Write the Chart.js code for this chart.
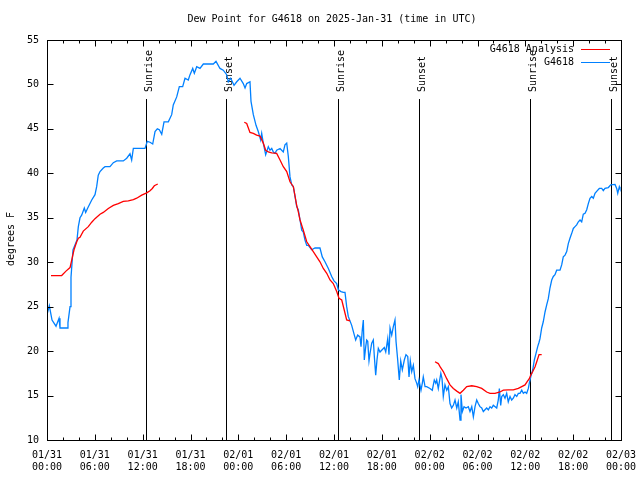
<!DOCTYPE html>
<html>
<head>
<meta charset="utf-8">
<script src="https://cdn.jsdelivr.net/npm/chart.js@4/dist/chart.umd.min.js"></script>
<style>
html,body{margin:0;padding:0;background:#fff;}
canvas{display:block;}
</style>
</head>
<body>
<canvas id="c" width="640" height="480"></canvas>
<script>
// ---- data (hours since 2025-01-31 00:00 UTC) ----
const chartTitle = 'Dew Point for G4618 on 2025-Jan-31 (time in UTC)';
const yAxisTitle = 'degrees F';
const seriesNames = ['G4618 Analysis', 'G4618'];

const xTickDates = ['01/31','01/31','01/31','01/31','02/01','02/01','02/01','02/01','02/02','02/02','02/02','02/02','02/03'];
const xTickTimes = ['00:00','06:00','12:00','18:00','00:00','06:00','12:00','18:00','00:00','06:00','12:00','18:00','00:00'];

const eventNames = ['Sunrise','Sunset','Sunrise','Sunset','Sunrise','Sunset'];
const eventHours = [12.45, 22.5, 36.55, 46.6, 60.6, 70.7];

const obsHours = [0,0.29,0.63,1.13,1.51,1.63,2.51,2.63,2.89,3.01,3.26,3.76,3.93,4.14,4.35,4.68,4.85,5.11,5.61,6.02,6.23,6.43,6.65,7.06,7.28,7.9,8.32,8.74,9.57,10.0,10.41,10.62,10.83,12.29,12.58,12.92,13.26,13.55,13.84,14.09,14.39,14.68,15.22,15.64,15.84,16.27,16.6,17.02,17.31,17.72,17.94,18.28,18.48,18.78,19.19,19.61,20.86,21.2,21.7,22.11,22.54,22.74,23.04,23.46,23.8,24.21,24.62,24.84,25.05,25.46,25.59,25.88,26.22,26.5,26.8,26.93,27.13,27.43,27.76,27.97,28.19,28.39,28.6,28.81,29.23,29.64,29.85,30.07,30.27,30.48,30.7,30.9,31.11,31.32,31.52,31.74,31.95,32.15,32.36,32.58,32.78,33.2,33.62,34.24,34.53,34.87,35.29,35.71,36.0,36.34,36.54,36.88,37.17,37.38,37.59,37.79,38.22,38.55,38.72,38.97,39.26,39.39,39.55,39.68,39.8,39.98,40.1,40.23,40.39,40.52,40.73,40.93,41.06,41.23,41.39,41.56,41.77,41.98,42.31,42.49,42.74,42.9,43.03,43.24,43.44,43.65,43.78,43.99,44.19,44.37,44.57,44.82,45.03,45.25,45.41,45.57,45.75,45.95,46.16,46.37,46.5,46.66,46.91,47.08,47.2,47.42,47.63,48.04,48.33,48.58,48.76,48.88,49.08,49.4,49.55,49.71,49.92,50.14,50.34,50.55,50.76,50.97,51.18,51.4,51.59,51.81,51.93,52.1,52.31,52.56,52.85,53.06,53.28,53.48,53.69,53.9,54.1,54.31,54.53,54.73,54.94,55.15,55.36,55.57,55.78,55.98,56.41,56.61,56.74,56.91,57.04,57.24,57.45,57.66,57.86,58.08,58.29,58.49,58.7,58.92,59.12,59.33,59.55,59.75,59.96,60.17,60.38,60.5,60.68,60.93,61.13,61.34,61.55,61.72,61.84,62.05,62.25,62.47,62.68,62.88,63.09,63.31,63.51,63.72,63.93,64.35,64.56,64.76,64.98,65.19,65.39,65.6,65.82,66.02,66.23,66.44,66.65,66.86,67.07,67.27,67.49,67.7,67.9,68.11,68.33,68.53,68.74,69.03,69.28,69.58,69.78,69.99,70.41,70.71,71.25,71.46,71.59,71.79,71.87];
const obsValues = [24.1,25.1,23.5,22.8,23.7,22.6,22.6,23.2,25.0,28.3,31.4,32.5,34.0,35.0,35.3,36.1,35.6,36.1,37.0,37.6,38.5,39.8,40.2,40.6,40.75,40.75,41.2,41.4,41.4,41.7,42.2,41.5,42.8,42.8,43.6,43.5,43.3,44.7,45.0,44.9,44.4,45.8,45.8,46.6,47.7,48.6,49.75,49.75,50.7,50.5,51.1,51.8,51.25,52.0,51.8,52.3,52.3,52.6,51.8,51.6,51.1,50.3,50.7,49.9,50.3,50.7,50.1,49.6,50.1,50.3,48.1,46.6,45.4,44.7,43.75,44.5,43.4,42.1,43.0,42.6,42.8,42.4,42.25,42.6,42.8,42.4,43.2,43.4,41.9,39.6,38.7,38.5,37.4,36.25,35.9,34.75,33.6,33.4,32.5,31.9,31.9,31.4,31.6,31.6,30.6,30.05,29.3,28.4,27.9,27.6,26.9,26.7,26.6,26.6,25.0,23.9,22.9,21.8,21.25,21.8,21.6,20.5,22.4,23.5,19.0,20.5,21.25,21.1,18.9,19.75,20.9,21.25,19.4,17.3,19.0,20.3,19.9,20.1,20.4,19.9,21.4,19.6,22.6,21.8,22.75,23.5,21.1,19.0,16.75,18.9,17.9,19.0,19.6,19.4,17.1,18.9,17.7,18.4,16.9,16.4,16.0,16.75,15.6,16.4,17.1,16.0,16.0,15.8,15.6,16.75,16.4,16.75,15.8,17.5,16.9,14.9,16.2,15.6,16.0,14.1,13.6,13.9,14.5,13.6,14.3,12.25,15.1,13.2,13.75,13.6,13.75,13.2,13.75,12.6,13.75,14.5,14.1,13.75,13.6,13.2,13.4,13.6,13.4,13.75,13.6,13.9,13.6,14.5,15.8,13.9,14.9,15.1,14.7,15.25,14.3,14.9,14.5,14.7,15.1,14.9,15.25,15.25,15.6,15.25,15.4,15.25,15.8,16.4,17.1,17.9,19.0,19.75,20.5,21.0,21.4,22.6,23.3,24.4,25.2,25.9,27.1,28.0,28.4,28.6,29.1,29.1,29.7,30.6,30.8,31.2,32.1,32.7,33.25,33.8,34.0,34.2,34.55,34.75,34.55,35.4,35.5,35.9,36.6,37.2,37.4,37.2,37.75,38.05,38.3,38.3,38.05,38.3,38.4,38.7,38.75,38.3,37.75,38.5,38.3];

const anaHours = [0.5,1.84,2.38,2.89,3.39,3.73,3.93,4.14,4.55,5.18,5.61,6.02,6.65,7.06,7.69,8.32,8.94,9.57,10.2,10.83,11.25,11.88,12.51,12.92,13.21,13.46,13.89,
  19,
  24.75,25.05,25.46,25.88,26.3,26.72,27.13,27.43,27.76,28.19,28.81,29.23,29.64,30.07,30.48,30.9,31.32,31.52,31.74,32.15,32.58,32.99,33.4,33.83,34.24,34.66,35.09,35.5,35.91,36.34,36.63,36.97,37.29,37.59,38.01,
  43,
  48.67,49.08,49.3,49.71,50.14,50.55,50.97,51.4,51.81,52.22,52.65,53.28,53.9,54.53,55.15,55.57,56.2,56.82,57.24,57.86,58.49,59.12,59.55,59.96,60.25,60.5,60.68,60.93,61.22,61.43,61.72,62.05];
const anaValues = [28.5,28.5,29.0,29.4,31.4,32.3,32.7,32.8,33.5,34.0,34.5,34.9,35.4,35.6,36.05,36.4,36.6,36.85,36.9,37.05,37.2,37.55,37.8,38.05,38.3,38.6,38.8,
  null,
  45.75,45.6,44.6,44.5,44.3,44.2,43.4,42.6,42.4,42.3,42.25,41.5,40.75,40.2,39.05,38.5,36.4,35.7,34.75,33.6,32.3,31.75,31.2,30.6,30.05,29.3,28.75,28.0,27.6,26.7,25.95,25.75,24.6,23.5,23.4,
  null,
  18.8,18.6,18.25,17.7,16.9,16.2,15.8,15.5,15.25,15.6,16.0,16.1,16.0,15.8,15.4,15.25,15.25,15.4,15.6,15.65,15.65,15.8,16.0,16.2,16.6,16.9,17.3,17.7,18.25,18.8,19.6,19.6];

const seriesColors = ['#ff0000', '#0080ff'];

// ---- build ----
const toPts = (hs, vs) => hs.map((h, i) => ({x: h, y: vs[i]}));
const FONT = "'DejaVu Sans Mono', 'Liberation Mono', monospace";
Chart.defaults.font.family = FONT;
Chart.defaults.font.size = 10;
Chart.defaults.color = '#000';

const decor = {
  id: 'decor',
  beforeDatasetsDraw(chart) {
    const ctx = chart.ctx, a = chart.chartArea, xs = chart.scales.x;
    ctx.save();
    ctx.strokeStyle = '#000';
    ctx.lineWidth = 1;
    ctx.fillStyle = '#000';
    ctx.font = '10px ' + FONT;
    eventHours.forEach((h, i) => {
      const x = Math.round(xs.getPixelForValue(h)) + 0.5;
      ctx.beginPath();
      ctx.moveTo(x, 99);
      ctx.lineTo(x, a.bottom);
      ctx.stroke();
      ctx.save();
      ctx.translate(x + 5.5, 92);
      ctx.rotate(-Math.PI / 2);
      ctx.textAlign = 'left';
      ctx.textBaseline = 'alphabetic';
      ctx.fillText(eventNames[i], 0, 0);
      ctx.restore();
    });
    ctx.restore();
  },
  afterDraw(chart) {
    const ctx = chart.ctx, a = chart.chartArea, xs = chart.scales.x, ys = chart.scales.y;
    ctx.save();
    ctx.strokeStyle = '#000';
    ctx.fillStyle = '#000';
    ctx.lineWidth = 1;
    const L = Math.round(a.left) + 0.5, R = Math.round(a.right) + 0.5;
    const T = Math.round(a.top) + 0.5, B = Math.round(a.bottom) + 0.5;
    ctx.strokeRect(L, T, R - L, B - T);
    ctx.beginPath();
    for (let h = xs.min; h <= xs.max; h += 2) {
      const x = Math.round(xs.getPixelForValue(h)) + 0.5;
      const len = (h % 6 === 0) ? 6 : 3;
      ctx.moveTo(x, B); ctx.lineTo(x, B - len);
      ctx.moveTo(x, T); ctx.lineTo(x, T + len);
    }
    for (let v = ys.min; v <= ys.max; v += 5) {
      const y = Math.round(ys.getPixelForValue(v)) + 0.5;
      ctx.moveTo(L, y); ctx.lineTo(L + 6, y);
      ctx.moveTo(R, y); ctx.lineTo(R - 6, y);
    }
    ctx.stroke();

    ctx.font = '10px ' + FONT;
    // title
    ctx.textAlign = 'center';
    ctx.textBaseline = 'middle';
    ctx.fillText(chartTitle, 332, 19);
    // y title
    ctx.save();
    ctx.translate(11, 239);
    ctx.rotate(-Math.PI / 2);
    ctx.fillText(yAxisTitle, 0, 0);
    ctx.restore();
    // legend
    ctx.textAlign = 'right';
    chart.data.datasets.forEach((ds, i) => {
      const y = 49 + i * 13;
      ctx.fillStyle = '#000';
      ctx.fillText(ds.label, 574, y);
      ctx.strokeStyle = ds.borderColor;
      ctx.beginPath();
      ctx.moveTo(581, y + 0.5);
      ctx.lineTo(610, y + 0.5);
      ctx.stroke();
    });
    ctx.restore();
  }
};

new Chart(document.getElementById('c'), {
  type: 'line',
  data: {
    datasets: [
      {label: seriesNames[0], data: toPts(anaHours, anaValues), borderColor: seriesColors[0], borderWidth: 1.3, pointRadius: 0, spanGaps: false, fill: false, tension: 0},
      {label: seriesNames[1], data: toPts(obsHours, obsValues), borderColor: seriesColors[1], borderWidth: 1.3, pointRadius: 0, spanGaps: false, fill: false, tension: 0}
    ]
  },
  options: {
    responsive: false,
    animation: false,
    devicePixelRatio: 1,
    layout: {padding: {top: 40, right: 19, left: 0, bottom: 0}},
    plugins: {legend: {display: false}, title: {display: false}, tooltip: {enabled: false}},
    scales: {
      x: {
        type: 'linear', min: 0, max: 72,
        grid: {display: false, drawTicks: false},
        border: {display: false},
        ticks: {
          stepSize: 6, autoSkip: false, maxRotation: 0, padding: 9,
          callback: (v) => { const i = Math.round(v / 6); return [xTickDates[i], xTickTimes[i]]; }
        },
        afterFit: (s) => { s.height = 40; s.paddingLeft = 0; s.paddingRight = 0; }
      },
      y: {
        min: 10, max: 55,
        grid: {display: false, drawTicks: false},
        border: {display: false},
        ticks: {stepSize: 5, padding: 8},
        afterFit: (s) => { s.width = 47; s.paddingTop = 0; s.paddingBottom = 0; }
      }
    }
  },
  plugins: [decor]
});
</script>
</body>
</html>
